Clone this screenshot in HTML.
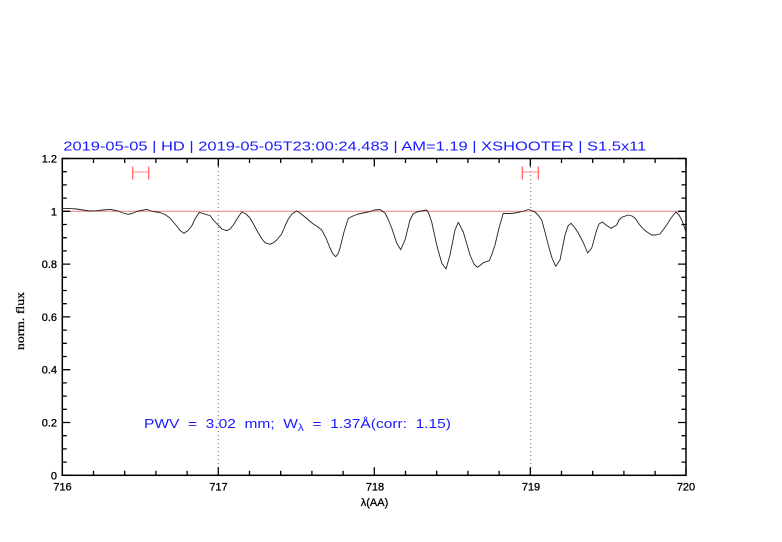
<!DOCTYPE html>
<html><head><meta charset="utf-8"><style>
html,body{margin:0;padding:0;background:#fff;}
svg{display:block;}
</style></head><body>
<svg width="782" height="542" viewBox="0 0 782 542" xmlns="http://www.w3.org/2000/svg">
<rect width="782" height="542" fill="#fff"/>
<!-- title -->
<text x="63.3" y="150.5" font-family="Liberation Sans, sans-serif" font-size="13" fill="#1a1aff" textLength="583" lengthAdjust="spacingAndGlyphs">2019-05-05 | HD | 2019-05-05T23:00:24.483 | AM=1.19 | XSHOOTER | S1.5x11</text>

<!-- dotted verticals -->
<line x1="218.3" y1="159" x2="218.3" y2="475" stroke="#666" stroke-width="1" stroke-dasharray="1 3"/>
<line x1="530.7" y1="159" x2="530.7" y2="475" stroke="#666" stroke-width="1" stroke-dasharray="1 3"/>

<!-- y=1 line -->
<line x1="62.3" y1="211.3" x2="686" y2="211.3" stroke="#e88080" stroke-width="1"/>

<!-- red markers -->
<g stroke-width="1.2">
<line x1="132.7" y1="172" x2="148.7" y2="172" stroke="#ffa0a0"/>
<line x1="132.7" y1="166.5" x2="132.7" y2="179.5" stroke="#ff6060"/>
<line x1="148.7" y1="166.5" x2="148.7" y2="179.5" stroke="#ff6060"/>
<line x1="522.3" y1="172" x2="538.3" y2="172" stroke="#ffa0a0"/>
<line x1="522.3" y1="166.5" x2="522.3" y2="179.5" stroke="#ff6060"/>
<line x1="538.3" y1="166.5" x2="538.3" y2="179.5" stroke="#ff6060"/>
</g>

<!-- spectrum -->
<polyline fill="none" stroke="#222" stroke-width="0.9" stroke-linejoin="round" points="
63,208.3 70,208.6 76.7,209 83,210 90,211 96.7,210.7 103,210 110,209.3 118,211 123,213 128,214.3 132,213.5 136.7,211.5 141,210.5 146.7,209.3 150,210.5 153.3,211.5 160,212.5 165,214.5 170,218 176.7,226 180,230.5 184,233.3 188,230.5 191.7,226 195,219 199.3,212.3 203,213.5 206.7,214.7 210,215.5 213.3,220 218,225 222,229 226.7,230.7 230,229 233.3,225 237,219 241.7,212 246,214 250,218 254,225 258.3,233 262,239 265,242.7 270,244.3 273,243 276.7,240 281.7,234 285,226 288.3,219 292,214 296.7,211 300,213 305,217 309,220.5 313.3,224 318,227 321.7,230 326,238 330,248 333,254 335.7,256.7 338,254 340,248 344,232 348.3,218.3 353,216 358.3,214 363,213 368.3,212 374.3,210 380,209.5 385,213 388,219 391.7,228 396.7,243 400.7,249.7 405,240 410,220 413,214 416.7,212 421,211 426.7,210 429,214 431.7,222 436.7,245 441.7,263 446,269 450,255 455,230 458.3,222.3 463.3,232 470,255 474,264 477.3,267.3 480,265.5 483.3,262.7 489.3,260.7 492,254 495,245 499,228 503.3,213.3 507,213.5 510,213.5 515,213 520,212 524,211 528.3,209.5 532,210.5 535,212 538,215 541.7,220 545,232 548.3,245 552,258 555.7,266.3 560,260 565,235 568,226 571,223.3 575,228 578.3,233 583,242 587.7,253 591.7,248 596.7,230 599,224 602.3,222 606,225 611,228.3 616.7,225 619,220 621.7,217.3 628.3,215 632,216 635,218 639,224 643.3,229 647,232 651.7,235 656,235 660,234 663,230 666.7,225 671,218 676,212 679,215 681.7,220 684,226 686,232"/>

<!-- frame -->
<rect x="62.3" y="158.5" width="623.7" height="316.8" fill="none" stroke="#000" stroke-width="1.5"/>

<!-- ticks -->
<g stroke="#000" stroke-width="1.3">
<path d="M62.3 475.3v-8M218.3 475.3v-8M374.3 475.3v-8M530.3 475.3v-8M686 475.3v-8
M62.3 158.5v8M218.3 158.5v8M374.3 158.5v8M530.3 158.5v8M686 158.5v8"/>
<path d="M93.5 475.3v-4.5M124.7 475.3v-4.5M155.9 475.3v-4.5M187.1 475.3v-4.5
M249.5 475.3v-4.5M280.7 475.3v-4.5M311.9 475.3v-4.5M343.1 475.3v-4.5
M405.5 475.3v-4.5M436.7 475.3v-4.5M467.9 475.3v-4.5M499.1 475.3v-4.5
M561.5 475.3v-4.5M592.7 475.3v-4.5M623.9 475.3v-4.5M655.1 475.3v-4.5
M93.5 158.5v4.5M124.7 158.5v4.5M155.9 158.5v4.5M187.1 158.5v4.5
M249.5 158.5v4.5M280.7 158.5v4.5M311.9 158.5v4.5M343.1 158.5v4.5
M405.5 158.5v4.5M436.7 158.5v4.5M467.9 158.5v4.5M499.1 158.5v4.5
M561.5 158.5v4.5M592.7 158.5v4.5M623.9 158.5v4.5M655.1 158.5v4.5"/>
<path d="M62.3 475.3h8M62.3 422.5h8M62.3 369.7h8M62.3 316.9h8M62.3 264.1h8M62.3 211.3h8M62.3 158.5h8
M686 475.3h-8M686 422.5h-8M686 369.7h-8M686 316.9h-8M686 264.1h-8M686 211.3h-8M686 158.5h-8"/>
<path d="M62.3 462.1h4.5M62.3 448.9h4.5M62.3 435.7h4.5
M62.3 409.3h4.5M62.3 396.1h4.5M62.3 382.9h4.5
M62.3 356.5h4.5M62.3 343.3h4.5M62.3 330.1h4.5
M62.3 303.7h4.5M62.3 290.5h4.5M62.3 277.3h4.5
M62.3 250.9h4.5M62.3 237.7h4.5M62.3 224.5h4.5
M62.3 198.1h4.5M62.3 184.9h4.5M62.3 171.7h4.5
M686 462.1h-4.5M686 448.9h-4.5M686 435.7h-4.5
M686 409.3h-4.5M686 396.1h-4.5M686 382.9h-4.5
M686 356.5h-4.5M686 343.3h-4.5M686 330.1h-4.5
M686 303.7h-4.5M686 290.5h-4.5M686 277.3h-4.5
M686 250.9h-4.5M686 237.7h-4.5M686 224.5h-4.5
M686 198.1h-4.5M686 184.9h-4.5M686 171.7h-4.5"/>
</g>

<!-- y tick labels -->
<g font-family="Liberation Sans, sans-serif" font-size="11" fill="#000" text-anchor="end" stroke="#000" stroke-width="0.3">
<text x="57" y="479.3">0</text>
<text x="57" y="426.5">0.2</text>
<text x="57" y="373.7">0.4</text>
<text x="57" y="320.9">0.6</text>
<text x="57" y="268.1">0.8</text>
<text x="57" y="215.3">1</text>
<text x="57" y="162.5">1.2</text>
</g>
<!-- x tick labels -->
<g font-family="Liberation Sans, sans-serif" font-size="11" fill="#000" text-anchor="middle" stroke="#000" stroke-width="0.3">
<text x="62.5" y="490.5">716</text>
<text x="218.5" y="490.5">717</text>
<text x="375" y="490.5">718</text>
<text x="531" y="490.5">719</text>
<text x="686" y="490.5">720</text>
</g>

<!-- axis labels -->
<text x="374.5" y="506" font-family="Liberation Sans, sans-serif" font-size="11" text-anchor="middle" fill="#000" stroke="#000" stroke-width="0.3">λ(AA)</text>
<text transform="translate(24,321) rotate(-90)" font-family="Liberation Serif, serif" font-size="11.5" text-anchor="middle" fill="#000" stroke="#000" stroke-width="0.25" textLength="58" lengthAdjust="spacingAndGlyphs">norm. flux</text>

<!-- annotation -->
<text x="144" y="428" font-family="Liberation Sans, sans-serif" font-size="13" fill="#1a1aff" xml:space="preserve" textLength="307" lengthAdjust="spacingAndGlyphs">PWV  =  3.02  mm;  W<tspan font-size="10" dy="3">λ</tspan><tspan dy="-3">  =  1.37Å(corr:  1.15)</tspan></text>
</svg>
</body></html>
